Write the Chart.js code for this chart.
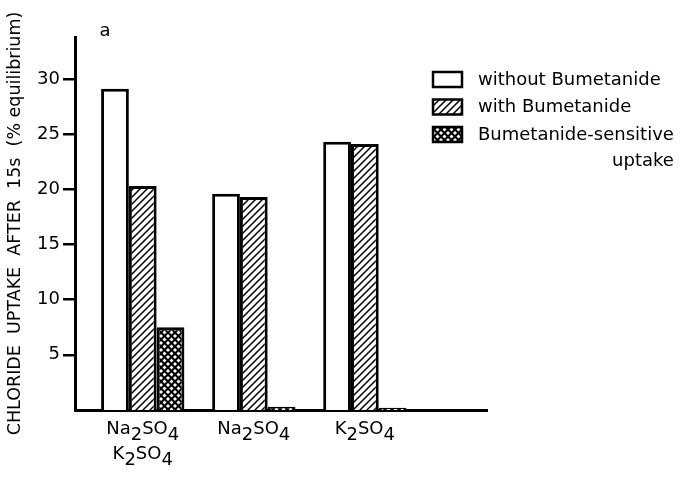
<!DOCTYPE html>
<html>
<head>
<meta charset="UTF-8">
<title>chloride uptake</title>
<script src="https://cdn.jsdelivr.net/npm/chart.js"></script>
<style>
body{margin:0; background:#fff;}
#wrap{width:687px; height:478px;}
</style>
</head>
<body>
<div id="wrap"><canvas id="myChart" width="687" height="478"></canvas></div>
<script>
// data
var categories = [['Na₂SO₄', 'K₂SO₄'], ['Na₂SO₄'], ['K₂SO₄']];
var withoutBum = [29.1, 19.6, 24.3];
var withBum = [20.3, 19.3, 24.1];
var sensitive = [7.5, 0.3, 0.2];
var yTicks = [5, 10, 15, 20, 25, 30];
var seriesLabels = ['without Bumetanide', 'with Bumetanide', 'Bumetanide-sensitive uptake'];
var legendLines = [['without Bumetanide'], ['with Bumetanide'], ['Bumetanide-sensitive', 'uptake']];

var FONT = '"DejaVu Sans", sans-serif';
var SUBS = '₀₁₂₃₄₅₆₇₈₉';

function toXY(arr){
	return arr.map(function(v, i){ return {x: i + 1, y: v}; });
}

// hatch ///
function hatch(){
	var s = 7;
	var c = document.createElement('canvas'); c.width = s; c.height = s;
	var g = c.getContext('2d');
	g.fillStyle = '#fff'; g.fillRect(0, 0, s, s);
	g.strokeStyle = '#000'; g.lineWidth = 1.5;
	g.beginPath();
	g.moveTo(-1, s + 1); g.lineTo(s + 1, -1);
	g.moveTo(-1, 1); g.lineTo(1, -1);
	g.moveTo(s - 1, s + 1); g.lineTo(s + 1, s - 1);
	g.stroke();
	return g.createPattern(c, 'repeat');
}

// cross hatch (black with white diamonds)
function cross(){
	var s = 7;
	var c = document.createElement('canvas'); c.width = s; c.height = s;
	var g = c.getContext('2d');
	g.fillStyle = '#000'; g.fillRect(0, 0, s, s);
	g.fillStyle = '#fff';
	function d(x, y){
		var r = 2;
		g.beginPath();
		g.moveTo(x, y - r); g.lineTo(x + r, y); g.lineTo(x, y + r); g.lineTo(x - r, y);
		g.closePath(); g.fill();
	}
	d(3.5, 3.5); d(0, 0); d(s, 0); d(0, s); d(s, s);
	return g.createPattern(c, 'repeat');
}

// text with lowered full size digits for the subscripts
function splitSub(str){
	var parts = [];
	for (var i = 0; i < str.length; i++) {
		var k = SUBS.indexOf(str[i]);
		parts.push(k >= 0 ? {t: String(k), sub: true} : {t: str[i], sub: false});
	}
	return parts;
}
function drawSubText(g, str, cx, cy){
	var parts = splitSub(str);
	var w = 0;
	parts.forEach(function(p){ w += g.measureText(p.t).width; });
	var x = cx - w / 2;
	parts.forEach(function(p){
		g.fillText(p.t, x, p.sub ? cy + 6 : cy);
		x += g.measureText(p.t).width;
	});
}

var boxLegend = {
	id: 'boxLegend',
	afterDraw: function(chart){
		var g = chart.ctx;
		var ds = chart.data.datasets;
		g.save();
		g.font = '18px ' + FONT;
		g.textBaseline = 'middle';
		for (var i = 0; i < ds.length; i++) {
			var y = 72 + i * 27.5;
			g.fillStyle = ds[i].backgroundColor;
			g.fillRect(433, y, 29, 15);
			g.strokeStyle = '#000'; g.lineWidth = 2.5;
			g.strokeRect(433, y, 29, 15);
			g.fillStyle = '#000';
			g.textAlign = 'left';
			var lines = legendLines[i];
			g.fillText(lines[0], 478, y + 8);
			if (lines[1]) {
				var w = g.measureText(lines[0]).width;
				g.textAlign = 'right';
				g.fillText(lines[1], 478 + w, y + 8 + 26);
			}
		}
		// panel letter
		g.textAlign = 'center';
		g.fillText('a', 105, 31);

		// category labels under the x axis, placed through the x scale
		var xs = chart.scales.x;
		g.textAlign = 'left';
		categories.forEach(function(lab, i){
			var cx = xs.getPixelForValue(i + 1);
			lab.forEach(function(line, j){
				drawSubText(g, line, cx, 429 + j * 25);
			});
		});
		g.restore();
	}
};

var ctx = document.getElementById('myChart');
new Chart(ctx, {
	type: 'bar',
	data: {
		datasets: [
			{label: seriesLabels[0], data: toXY(withoutBum), backgroundColor: '#fff', borderColor: '#000', borderWidth: 3},
			{label: seriesLabels[1], data: toXY(withBum), backgroundColor: hatch(), borderColor: '#000', borderWidth: 3},
			{label: seriesLabels[2], data: toXY(sensitive), backgroundColor: cross(), borderColor: '#000', borderWidth: 3}
		]
	},
	options: {
		responsive: false,
		animation: false,
		datasets: {bar: {categoryPercentage: 0.75, barPercentage: 1}},
		layout: {padding: {left: 0, right: 200, top: 37, bottom: 0}},
		plugins: {legend: {display: false}, tooltip: {enabled: false}},
		scales: {
			x: {
				type: 'linear', min: 0.39, max: 4.1, offset: false,
				afterBuildTicks: function(s){
					s.ticks = categories.map(function(c, i){ return {value: i + 1}; });
				},
				ticks: {display: false},
				grid: {display: false},
				border: {color: '#000', width: 3},
				afterFit: function(s){ s.height = 68; }
			},
			y: {
				min: 0, max: 33.8,
				afterBuildTicks: function(s){
					s.ticks = yTicks.map(function(v){ return {value: v}; });
				},
				ticks: {font: {family: FONT, size: 18}, color: '#000', padding: 3},
				grid: {drawOnChartArea: false, tickLength: 12, color: '#000', lineWidth: 2.5},
				border: {color: '#000', width: 3},
				title: {
					display: true,
					text: 'CHLORIDE  UPTAKE  AFTER  15s  (% equilibrium)',
					font: {family: FONT, size: 17.5}, color: '#000',
					padding: {top: 5, bottom: 0}
				},
				afterFit: function(s){ s.width = 75; }
			}
		}
	},
	plugins: [boxLegend]
});
</script>
</body>
</html>
